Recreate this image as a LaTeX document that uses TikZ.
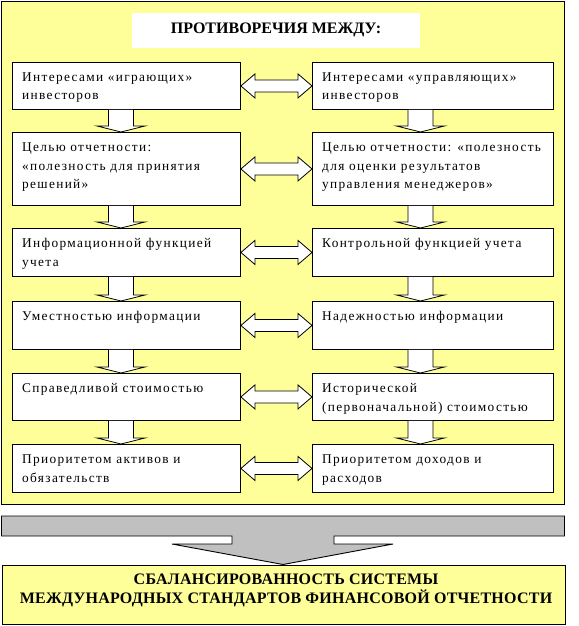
\documentclass[tikz,border=0pt]{standalone}
\usepackage{fontspec}
\setmainfont{Liberation Serif}
\newfontfamily\itemfont[LetterSpace=10]{Liberation Serif}
\newfontfamily\resultfont[LetterSpace=1.5]{Liberation Serif}
\usetikzlibrary{calc}
\definecolor{paleyellow}{RGB}{255,255,153}
\definecolor{arrowgray}{RGB}{192,192,192}
\tikzset{
  panel/.style={draw=black, line width=1pt, fill=paleyellow},
  itembox/.style={draw=black, line width=0.9pt, fill=white, rectangle, inner sep=0pt, anchor=north west},
  itemtext/.style={font=\itemfont\fontsize{13.33}{18.5}\selectfont, align=left, inner sep=0pt, anchor=base west},
  dblarrow/.style={draw=black, line width=0.8pt, fill=white, line join=miter},
  downfill/.style={fill=white},
  downline/.style={draw=black, line width=0.8pt},
  bigarrow/.style={draw=black, line width=0.9pt, fill=arrowgray},
  headtext/.style={font=\fontsize{16}{19}\selectfont\bfseries, align=center, inner sep=0pt}
}
\begin{document}
\begin{tikzpicture}[x=1pt, y=-1pt]
\useasboundingbox (0,0) rectangle (578,626);
% outer panel
\draw[panel] (1.5,1.5) rectangle (564.5,504.5);
% title
\node[fill=white, inner sep=0pt, minimum width=288pt, minimum height=35pt, anchor=north west] (title) at (132,13) {};
\node[headtext, anchor=base] (titletext) at (276,33.5) {ПРОТИВОРЕЧИЯ МЕЖДУ:};
% boxes
\foreach \n/\t/\h in {1/62/47, 2/132/73, 3/228/48, 4/301/48, 5/373/47, 6/444/48}{
  \node[itembox, minimum width=228pt, minimum height=\h pt] (L\n) at (12,\t) {};
  \node[itembox, minimum width=241pt, minimum height=\h pt] (R\n) at (312,\t) {};
}
% texts (base = baseline of last line)
\node[itemtext] (tL1) at ($(L1.north west)+(10,37.5)$) {Интересами «играющих»\\инвесторов};
\node[itemtext] (tR1) at ($(R1.north west)+(10,37.5)$) {Интересами «управляющих»\\инвесторов};
\node[itemtext] (tL2) at ($(L2.north west)+(10,56.5)$) {Целью отчетности:\\«полезность для принятия\\решений»};
\node[itemtext] (tR2) at ($(R2.north west)+(10,56.5)$) {Целью отчетности: «полезность\\для оценки результатов\\управления менеджеров»};
\node[itemtext] (tL3) at ($(L3.north west)+(10,38)$) {Информационной функцией\\учета};
\node[itemtext] (tR3) at ($(R3.north west)+(10,19.5)$) {Контрольной функцией учета};
\node[itemtext] (tL4) at ($(L4.north west)+(10,19.5)$) {Уместностью информации};
\node[itemtext] (tR4) at ($(R4.north west)+(10,19.5)$) {Надежностью информации};
\node[itemtext] (tL5) at ($(L5.north west)+(10,19.5)$) {Справедливой стоимостью};
\node[itemtext] (tR5) at ($(R5.north west)+(10,38)$) {Исторической\\(первоначальной) стоимостью};
\node[itemtext] (tL6) at ($(L6.north west)+(10,38)$) {Приоритетом активов и\\обязательств};
\node[itemtext] (tR6) at ($(R6.north west)+(10,38)$) {Приоритетом доходов и\\расходов};
% horizontal double arrows
\foreach \n in {1,...,6}{
  \draw[dblarrow] (L\n.east) -- ++(14,-12) -- ++(0,6) -- ($(R\n.west)+(-14,-6)$) -- ++(0,-6) -- (R\n.west)
    -- ++(-14,12) -- ++(0,-6) -- ($(L\n.east)+(14,6)$) -- ++(0,6) -- cycle;
}
% vertical down arrows
\foreach \a/\b in {1/2,2/3,3/4,4/5,5/6}{
  \foreach \s/\dx in {L/-5.5,R/-12.5}{
    \coordinate (top\s\a) at ($(\s\a.south)+(\dx,0)$);
    \coordinate (tip\s\a) at ($(\s\b.north)+(\dx,0)$);
    \fill[downfill] ($(top\s\a)+(-12.5,0)$) -- ($(tip\s\a)+(-12.5,-6)$) -- ($(tip\s\a)+(-24,-6)$) -- (tip\s\a)
      -- ($(tip\s\a)+(24,-6)$) -- ($(tip\s\a)+(12.5,-6)$) -- ($(top\s\a)+(12.5,0)$) -- cycle;
    \draw[downline] ($(top\s\a)+(-12.5,0)$) -- ($(tip\s\a)+(-12.5,-6)$) -- ($(tip\s\a)+(-24,-6)$) -- (tip\s\a)
      -- ($(tip\s\a)+(24,-6)$) -- ($(tip\s\a)+(12.5,-6)$) -- ($(top\s\a)+(12.5,0)$);
  }
}
% result box
\node[panel, rectangle, inner sep=0pt, minimum width=563pt, minimum height=59.5pt, anchor=north west] (result) at (1.5,564.5) {};
\node[headtext, font=\resultfont\fontsize{16}{19}\selectfont\bfseries, anchor=base] (resulttext) at (286,603) {СБАЛАНСИРОВАННОСТЬ СИСТЕМЫ\\МЕЖДУНАРОДНЫХ СТАНДАРТОВ ФИНАНСОВОЙ ОТЧЕТНОСТИ};
% big gray arrow
\coordinate (bartl) at (1.5,516);
\draw[bigarrow] (bartl) -- (564.5,516) -- (564.5,536) -- (334,536) -- (334,544) -- (393,544) -- (result.north -| 283,0)
  -- (172,544) -- (232,544) -- (232,536) -- (1.5,536) -- cycle;
\end{tikzpicture}
\end{document}
